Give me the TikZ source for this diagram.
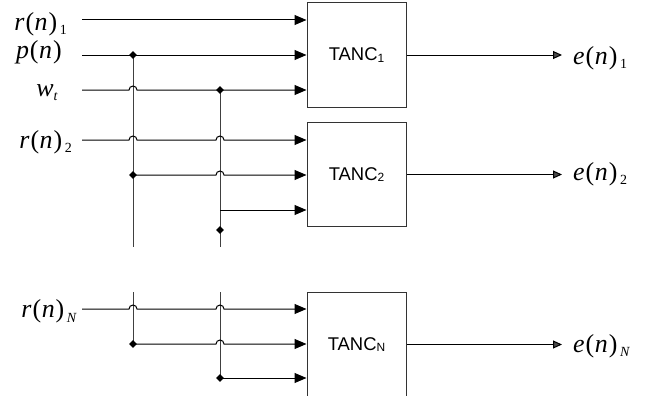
\documentclass[tikz,border=0pt]{standalone}
\usepackage{fontspec}
\setmainfont{Liberation Serif}
\newfontfamily\sigfont{Liberation Serif}
\newfontfamily\boxfont{Liberation Sans}
\usetikzlibrary{arrows.meta,shapes.geometric}

% signal label: italic letter, upright parentheses, small lowered index
\newcommand\siglabel[3]{\sigfont\fontsize{26}{26}\selectfont\textit{#1}\kern1bp(\kern0.6bp\textit{#2}\kern1bp)\kern2.5bp\raisebox{-4.5bp}{\fontsize{14}{14}\selectfont #3}}
% small index in the block names
\newcommand\blocksub[1]{\raisebox{-1.5bp}{\fontsize{12}{12}\selectfont #1}}

\begin{document}
\begin{tikzpicture}[x=1bp,y=1bp,
  wire/.style={line width=1bp,draw=black},
  inarrow/.style={wire,-{Triangle[length=12bp,width=10bp]}},
  outarrow/.style={wire,-{Triangle[length=9bp,width=8bp,fill=black!70]}},
  tanc/.style={draw=black!80,line width=1bp,minimum width=99bp,minimum height=104bp,
    inner sep=0pt,font=\boxfont\fontsize{18.5}{18.5}\selectfont},
  dot/.style={diamond,fill=black,inner sep=0pt,minimum size=8bp},
  siglbl/.style={inner sep=0pt}]
\useasboundingbox (0,0) rectangle (649,395);

% processing blocks
\node[tanc] (t1) at (356.5,340) {TANC\blocksub{1}};
\node[tanc] (t2) at (356.5,220.5) {TANC\blocksub{2}};
\node[tanc] (tN) at (356.5,50.5) {TANC\blocksub{N}};

% input labels
\node[siglbl,anchor=base east] (lr1) at (67,365) {\siglabel{r}{n}{1}};
\node[siglbl,anchor=base east] (lp) at (62,337) {\sigfont\fontsize{26}{26}\selectfont\textit{p}\kern1bp(\kern0.6bp\textit{n}\kern1bp)};
\node[siglbl,anchor=base east] (lw) at (58,299) {\sigfont\fontsize{26}{26}\selectfont\textit{w}\raisebox{-4.5bp}{\fontsize{14}{14}\selectfont\textit{t}}};
\node[siglbl,anchor=base east] (lr2) at (72,247) {\siglabel{r}{n}{2}};
\node[siglbl,anchor=base east] (lrN) at (77,77.5) {\siglabel{r}{n}{\textit{N}}};

% output labels
\node[siglbl,anchor=base west] (le1) at (573,331) {\siglabel{e}{n}{1}};
\node[siglbl,anchor=base west] (le2) at (573,215) {\siglabel{e}{n}{2}};
\node[siglbl,anchor=base west] (leN) at (573,43) {\siglabel{e}{n}{\textit{N}}};

% line starts and junctions
\coordinate (sr1) at (82,375);
\coordinate (sp) at (82,340);
\coordinate (sw) at (82,305);
\coordinate (sr2) at (82,255);
\coordinate (srN) at (82,86);
\coordinate (oe) at (562,0);

\coordinate (j1) at (133,340);
\coordinate (j2) at (220,305);
\coordinate (j3) at (133,220);
\coordinate (j4) at (220,185);
\coordinate (j5) at (220,165);
\coordinate (v1end) at (133,148);
\coordinate (v2end) at (220,148);
\coordinate (v1top) at (133,103);
\coordinate (v2top) at (220,103);
\coordinate (j6) at (133,51);
\coordinate (j7) at (220,17);

% vertical buses
\draw[wire,draw=black!75] (j1) -- (v1end);
\draw[wire,draw=black!75] (j2) -- (v2end);
\draw[wire,draw=black!75] (v1top) -- (j6);
\draw[wire,draw=black!75] (v2top) -- (j7);

% inputs of block 1
\draw[inarrow] (sr1) -- (sr1 -| t1.west);
\draw[inarrow] (sp) -- (sp -| t1.west);
\draw[inarrow] (sw) -- ([xshift=-4bp]sw -| j1) arc[start angle=180,end angle=0,radius=4bp] -- (sw -| t1.west);

% inputs of block 2
\draw[inarrow] (sr2) -- ([xshift=-4bp]sr2 -| j1) arc[start angle=180,end angle=0,radius=4bp]
  -- ([xshift=-4bp]sr2 -| j2) arc[start angle=180,end angle=0,radius=4bp] -- (sr2 -| t2.west);
\draw[inarrow] (j3) -- ([xshift=-4bp]j3 -| j2) arc[start angle=180,end angle=0,radius=4bp] -- (j3 -| t2.west);
\draw[inarrow] (j4) -- (j4 -| t2.west);

% inputs of block N
\draw[inarrow] (srN) -- ([xshift=-4bp]srN -| v1top) arc[start angle=180,end angle=0,radius=4bp]
  -- ([xshift=-4bp]srN -| v2top) arc[start angle=180,end angle=0,radius=4bp] -- (srN -| tN.west);
\draw[inarrow] (j6) -- ([xshift=-4bp]j6 -| v2top) arc[start angle=180,end angle=0,radius=4bp] -- (j6 -| tN.west);
\draw[inarrow] (j7) -- (j7 -| tN.west);

% junction dots
\foreach \j in {j1,j2,j3,j5,j6,j7} \node[dot] at (\j) {};

% outputs
\draw[outarrow] (t1.east) -- (t1.east -| oe);
\draw[outarrow] (t2.east) -- (t2.east -| oe);
\draw[outarrow] (tN.east) -- (tN.east -| oe);
\end{tikzpicture}
\end{document}
